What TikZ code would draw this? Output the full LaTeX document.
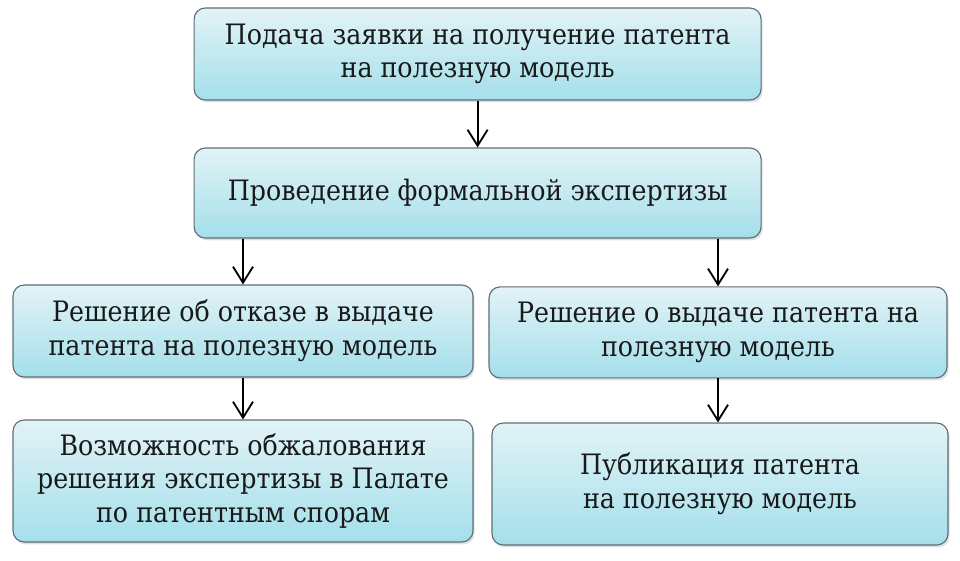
\documentclass[tikz,border=0pt]{standalone}
\usepackage{fontspec}
\setmainfont{DejaVu Serif Condensed}
\usetikzlibrary{arrows.meta,shadows}

\definecolor{boxtop}{HTML}{E2F3F6}
\definecolor{boxbottom}{HTML}{A4DFEB}
\definecolor{boxline}{HTML}{5E6E77}

\begin{document}
\begin{tikzpicture}[
        stepbox/.style={draw=boxline, line width=0.8pt, rounded corners=8pt,
            top color=boxtop, bottom color=boxbottom, align=center, inner sep=0pt,
            font=\rmfamily\fontsize{20}{24}\selectfont, text=black!90,
            drop shadow={opacity=0.25, shadow xshift=0.04cm, shadow yshift=-0.06cm}},
        arrow/.style={black, -{Straight Barb[length=4mm, width=5mm]}, line width=1.3pt}
    ]
    \useasboundingbox (0,0) rectangle (24,14);

    % ==========================================
    % TOP: application and formal examination
    % ==========================================
    \node[stepbox, minimum width=14.175cm, minimum height=2.3cm] (zayavka) at (11.94,12.65)
        {Подача заявки на получение патента\\на полезную модель};
    \node[stepbox, minimum width=14.175cm, minimum height=2.25cm] (ekspertiza) at (11.94,9.175)
        {Проведение формальной экспертизы};

    % ==========================================
    % LEFT: refusal
    % ==========================================
    \node[stepbox, minimum width=11.5cm, minimum height=2.3cm] (otkaz) at (6.075,5.725)
        {Решение об отказе в выдаче\\патента на полезную модель};
    \node[stepbox, minimum width=11.5cm, minimum height=3.05cm] (obzhalovanie) at (6.075,1.975)
        {Возможность обжалования\\решения экспертизы в Палате\\по патентным спорам};

    % ==========================================
    % RIGHT: grant
    % ==========================================
    \node[stepbox, minimum width=11.45cm, minimum height=2.275cm] (vydacha) at (17.95,5.69)
        {Решение о выдаче патента на\\полезную модель};
    \node[stepbox, minimum width=11.4cm, minimum height=3.05cm] (publikaciya) at (18.0,1.9)
        {Публикация патента\\на полезную модель};

    % arrows
    \draw[arrow] (zayavka.south) -- (ekspertiza.north);
    \draw[arrow] (ekspertiza.south -| otkaz.north) -- (otkaz.north);
    \draw[arrow] (ekspertiza.south -| vydacha.north) -- (vydacha.north);
    \draw[arrow] (otkaz.south) -- (obzhalovanie.north);
    \draw[arrow] (vydacha.south) -- (vydacha.south |- publikaciya.north);
\end{tikzpicture}
\end{document}
